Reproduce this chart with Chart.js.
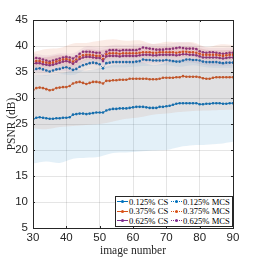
<!DOCTYPE html>
<html>
<head>
<meta charset="utf-8">
<script src="https://cdn.jsdelivr.net/npm/chart.js@4.4.0/dist/chart.umd.min.js"></script>
<style>
  html, body { margin: 0; padding: 0; background: #fff; }
  #wrap { position: relative; width: 258px; height: 258px; }
  #legend {
    position: absolute; left: 115px; top: 196px; width: 116px; height: 29px;
    border: 1px solid #262626; background: #fff;
    font-family: "Liberation Serif", "DejaVu Serif", serif; font-size: 8.6px; color: #000;
    display: grid; grid-template-columns: 54px 62px; grid-auto-rows: 9.6px; align-items: center;
  }
  .item { display: flex; align-items: center; white-space: nowrap; }
  .swatch { position: relative; width: 11px; height: 3px; margin: 0 1px 0 1px; }
  .swatch .ln { position: absolute; left: 0; right: 0; top: 1px; height: 0; }
  .swatch .dot { position: absolute; left: 4px; top: 0; width: 3px; height: 3px; border-radius: 50%; }
</style>
</head>
<body>
<div id="wrap">
  <canvas id="psnr" width="258" height="258"></canvas>
  <div id="legend"></div>
</div>
<script>
// image numbers 30..90
const imageNum = [30,31,32,33,34,35,36,37,38,39,40,41,42,43,44,45,46,47,48,49,50,51,52,53,54,55,56,57,58,59,60,
  61,62,63,64,65,66,67,68,69,70,71,72,73,74,75,76,77,78,79,80,81,82,83,84,85,86,87,88,89,90];

// mean PSNR per image
const cs125 = [25.9,26.2,26.3,26.2,26.1,26.0,26.0,26.1,26.1,26.2,26.2,26.3,26.8,26.9,27.0,27.0,26.9,27.0,27.1,27.2,27.2,
  27.2,27.6,27.8,27.9,27.9,28.0,28.0,28.0,28.1,28.2,28.3,28.3,28.3,28.2,28.1,28.1,28.1,28.3,28.3,28.4,
  28.5,28.7,28.9,29.0,29.0,29.0,29.0,29.0,29.0,28.8,28.8,28.9,28.9,29.0,29.0,29.0,28.9,28.9,29.0,29.0];
const cs375 = [31.5,31.9,32.0,31.9,31.7,31.5,31.6,31.9,32.0,32.1,32.1,32.3,32.8,33.0,33.1,32.9,32.7,32.9,33.1,33.1,33.0,
  32.8,33.3,33.3,33.4,33.4,33.5,33.5,33.5,33.7,33.7,33.7,33.7,33.7,33.7,33.6,33.6,33.6,33.7,33.9,33.9,
  33.9,33.9,34.0,34.0,34.2,34.1,34.1,34.1,34.1,34.0,33.8,33.7,33.7,33.9,34.0,34.0,34.0,34.0,34.0,34.0];
const cs625 = [36.6,36.7,36.7,36.5,36.4,36.3,36.4,36.6,36.8,37.0,37.1,36.9,36.6,37.0,37.5,37.8,37.9,37.9,37.8,37.7,37.7,
  37.1,38.0,38.1,38.1,38.1,38.0,38.1,38.1,38.1,38.1,38.1,38.2,38.3,38.3,38.3,38.2,38.2,38.3,38.3,38.3,
  38.3,38.3,38.2,38.3,38.4,38.4,38.3,38.3,38.2,38.0,37.8,37.8,37.8,37.8,37.8,37.7,37.6,37.7,37.8,37.8];
const mcs125 = [35.4,35.6,35.7,35.5,35.3,35.1,35.3,35.5,35.6,35.8,35.9,35.7,35.4,35.6,36.0,36.3,36.5,36.7,36.8,36.7,36.5,
  35.7,36.7,36.8,36.9,36.9,36.9,36.9,36.9,36.9,36.9,37.0,37.1,37.4,37.3,37.3,37.2,37.2,37.2,37.2,37.3,
  37.2,37.1,37.0,37.0,37.2,37.4,37.4,37.3,37.3,37.2,37.0,36.9,36.9,36.9,36.9,36.8,36.7,36.8,36.8,36.8];
const mcs375 = [37.0,37.1,37.1,36.9,36.8,36.7,36.8,37.0,37.2,37.4,37.5,37.3,37.0,37.4,37.9,38.2,38.3,38.3,38.2,38.1,38.1,
  37.5,38.4,38.6,38.6,38.6,38.5,38.6,38.6,38.6,38.6,38.6,38.7,38.8,38.8,38.8,38.7,38.7,38.8,38.8,38.8,
  38.8,38.8,38.7,38.8,38.9,38.9,38.8,38.8,38.7,38.5,38.3,38.3,38.3,38.3,38.3,38.2,38.1,38.2,38.3,38.3];
const mcs625 = [37.6,37.7,37.6,37.4,37.2,37.0,37.2,37.4,37.6,37.8,37.9,37.8,37.6,38.0,38.5,38.9,38.9,38.9,38.8,38.7,38.7,
  38.1,38.9,39.2,39.2,39.2,39.1,39.2,39.2,39.2,39.2,39.2,39.4,39.7,39.6,39.5,39.4,39.3,39.3,39.3,39.4,
  39.4,39.5,39.6,39.7,39.6,39.5,39.5,39.5,39.4,39.0,38.8,38.7,38.8,38.8,38.7,38.6,38.5,38.6,38.7,38.7];

// spread bands (mean +/- std), sampled every 4 images
const bandX = [30,34,38,42,46,50,54,58,62,66,70,74,78,82,86,90];
const cs125Lo = [17.4,17.8,17.5,18.3,18.5,18.7,19.4,19.5,19.7,19.9,20.0,20.6,20.9,21.0,21.2,21.6];
const cs125Hi = [34.4,34.4,34.7,35.3,35.3,35.7,36.4,36.5,36.9,36.3,36.8,37.4,37.1,36.8,36.8,36.4];
const cs375Lo = [24.2,24.0,24.4,24.6,24.8,25.0,25.5,26.0,26.3,26.8,27.0,27.3,27.5,27.6,27.7,27.8];
const cs375Hi = [38.8,39.4,39.6,40.5,40.6,41.0,41.3,41.0,41.1,40.4,40.8,40.7,40.7,39.8,40.3,40.2];
const cs625Lo = [35.1,34.9,35.3,35.1,36.4,36.2,36.6,36.6,36.7,36.7,36.8,36.8,36.8,36.3,36.2,36.3];
const cs625Hi = [38.1,37.9,38.3,38.1,39.4,39.2,39.6,39.6,39.7,39.7,39.8,39.8,39.8,39.3,39.2,39.3];
const mcs125Lo = [34.4,34.3,34.6,34.4,35.5,35.5,35.9,35.9,36.1,36.2,36.3,36.0,36.3,35.9,35.8,35.8];
const mcs125Hi = [36.4,36.3,36.6,36.4,37.5,37.5,37.9,37.9,38.1,38.2,38.3,38.0,38.3,37.9,37.8,37.8];
const mcs375Lo = [36.0,35.8,36.2,36.0,37.3,37.1,37.6,37.6,37.7,37.7,37.8,37.8,37.8,37.3,37.2,37.3];
const mcs375Hi = [38.0,37.8,38.2,38.0,39.3,39.1,39.6,39.6,39.7,39.7,39.8,39.8,39.8,39.3,39.2,39.3];
const mcs625Lo = [36.6,36.2,36.6,36.6,37.9,37.7,38.2,38.2,38.4,38.4,38.4,38.7,38.5,37.7,37.6,37.7];
const mcs625Hi = [38.6,38.2,38.6,38.6,39.9,39.7,40.2,40.2,40.4,40.4,40.4,40.7,40.5,39.7,39.6,39.7];

const xTicks = [30,40,50,60,70,80,90];
const yTicks = [5,10,15,20,25,30,35,40,45];

const BLUE = "#0072BD", ORANGE = "#D95319", PURPLE = "#7E2F8E";
const pts = (xs, ys) => xs.map((x, i) => ({ x: x, y: ys[i] }));
const rgba = (hex, a) => {
    const n = parseInt(hex.slice(1), 16);
    return "rgba(" + (n >> 16) + "," + ((n >> 8) & 255) + "," + (n & 255) + "," + a + ")";
};

function band(hi, lo, color, alpha) {
    return [
        { data: pts(bandX, hi), borderWidth: 0, pointRadius: 0, fill: "+1",
          backgroundColor: rgba(color, alpha), tension: 0.3 },
        { data: pts(bandX, lo), borderWidth: 0, pointRadius: 0, fill: false, tension: 0.3 }
    ];
}

function line(label, ys, color, dotted) {
    return {
        label: label, data: pts(imageNum, ys),
        borderColor: color, backgroundColor: color, borderWidth: 0.9,
        borderDash: dotted ? [1, 1.5] : [],
        pointRadius: 1.3, pointBorderWidth: 0, pointBackgroundColor: color,
        fill: false, tension: 0
    };
}

const series = [
    { label: "0.125% CS", color: BLUE, dotted: false },
    { label: "0.125% MCS", color: BLUE, dotted: true },
    { label: "0.375% CS", color: ORANGE, dotted: false },
    { label: "0.375% MCS", color: ORANGE, dotted: true },
    { label: "0.625% CS", color: PURPLE, dotted: false },
    { label: "0.625% MCS", color: PURPLE, dotted: true }
];

const datasets = [].concat(
    band(cs125Hi, cs125Lo, BLUE, 0.11),
    band(cs375Hi, cs375Lo, ORANGE, 0.11),
    band(cs625Hi, cs625Lo, PURPLE, 0.08),
    band(mcs125Hi, mcs125Lo, BLUE, 0.08),
    band(mcs375Hi, mcs375Lo, ORANGE, 0.08),
    band(mcs625Hi, mcs625Lo, PURPLE, 0.08),
    [
        line("0.125% CS", cs125, BLUE, false),
        line("0.375% CS", cs375, ORANGE, false),
        line("0.125% MCS", mcs125, BLUE, true),
        line("0.625% CS", cs625, PURPLE, false),
        line("0.375% MCS", mcs375, ORANGE, true),
        line("0.625% MCS", mcs625, PURPLE, true)
    ]
);

// box around the plot + inward ticks
const boxPlugin = {
    id: "box",
    afterDraw(chart) {
        const { ctx, chartArea: a, scales } = chart;
        ctx.save();
        ctx.strokeStyle = "#262626";
        ctx.lineWidth = 1;
        ctx.beginPath();
        xTicks.forEach(v => {
            const px = Math.round(scales.x.getPixelForValue(v)) + 0.5;
            ctx.moveTo(px, a.bottom); ctx.lineTo(px, a.bottom - 2);
            ctx.moveTo(px, a.top); ctx.lineTo(px, a.top + 2);
        });
        yTicks.forEach(v => {
            const py = Math.round(scales.y.getPixelForValue(v)) + 0.5;
            ctx.moveTo(a.left, py); ctx.lineTo(a.left + 2, py);
            ctx.moveTo(a.right, py); ctx.lineTo(a.right - 2, py);
        });
        ctx.stroke();
        ctx.strokeRect(Math.round(a.left) + 0.5, Math.round(a.top) + 0.5,
            Math.round(a.right - a.left), Math.round(a.bottom - a.top));
        ctx.restore();
    }
};

new Chart(document.getElementById("psnr"), {
    type: "line",
    data: { datasets: datasets },
    options: {
        responsive: false,
        animation: false,
        layout: { padding: { top: 20, right: 25, left: 0, bottom: 0 } },
        plugins: { legend: { display: false }, tooltip: { enabled: false } },
        scales: {
            x: {
                type: "linear", min: 30, max: 90,
                afterBuildTicks: s => { s.ticks = xTicks.map(v => ({ value: v })); },
                afterFit: s => { s.height = 30; },
                grid: { color: "rgba(0,0,0,0.1)", drawTicks: false },
                border: { display: false },
                ticks: { padding: 3, color: "#262626", font: { family: "Liberation Sans", size: 11.5 } },
                title: { display: true, text: "image number", color: "#262626", padding: { top: 1, bottom: 0 },
                         font: { family: "Liberation Serif", size: 11.5 } }
            },
            y: {
                min: 5, max: 45,
                afterBuildTicks: s => { s.ticks = yTicks.map(v => ({ value: v })); },
                afterFit: s => { s.width = 33; },
                grid: { color: "rgba(0,0,0,0.1)", drawTicks: false },
                border: { display: false },
                ticks: { padding: 5, color: "#262626", font: { family: "Liberation Sans", size: 11.5 } },
                title: { display: true, text: "PSNR (dB)", color: "#262626", padding: { top: 5, bottom: 0 },
                         font: { family: "Liberation Serif", size: 11.5 } }
            }
        }
    },
    plugins: [boxPlugin]
});

// legend (two columns: CS | MCS)
const legend = document.getElementById("legend");
[0, 1, 2, 3, 4, 5].forEach(i => {
    const s = series[i];
    const el = document.createElement("div");
    el.className = "item";
    el.innerHTML = '<span class="swatch"><span class="ln" style="border-top:1px ' +
        (s.dotted ? "dotted" : "solid") + ' ' + s.color + '"></span>' +
        '<span class="dot" style="background:' + s.color + '"></span></span>' + s.label;
    legend.appendChild(el);
});
</script>
</body>
</html>
